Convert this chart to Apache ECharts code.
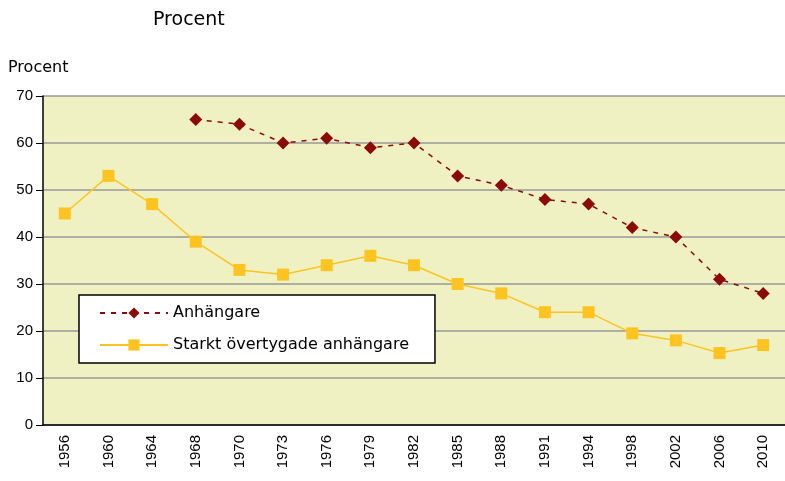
<!DOCTYPE html>
<html>
<head>
<meta charset="utf-8">
<script src="https://cdn.jsdelivr.net/npm/echarts@6/dist/echarts.min.js"></script>
<style>
  html, body { margin: 0; padding: 0; background: #fff; }
  #chart { width: 785px; height: 481px; }
</style>
</head>
<body>
<div id="chart"></div>
<script>
var years = ['1956','1960','1964','1968','1970','1973','1976','1979','1982','1985','1988','1991','1994','1998','2002','2006','2010'];
var anhangare = [null, null, null, 65, 64, 60, 61, 59, 60, 53, 51, 48, 47, 42, 40, 31, 28];
var starkt = [45, 53, 47, 39, 33, 32, 34, 36, 34, 30, 28, 24, 24, 19.5, 18, 15.3, 17];

var font = 'Liberation Sans, Arial, sans-serif';
var wide = 'DejaVu Sans, sans-serif';
var chart = echarts.init(document.getElementById('chart'));
chart.setOption({
    animation: false,
    title: {
        text: 'Procent',
        left: 148,
        top: 6,
        textStyle: { fontFamily: wide, fontSize: 19, fontWeight: 'normal', color: '#000' }
    },
    grid: {
        left: 43,
        right: 0,
        top: 96,
        bottom: 56,
        show: true,
        backgroundColor: '#eff1c3',
        borderWidth: 0
    },
    legend: {
        orient: 'vertical',
        left: 79,
        top: 295,
        backgroundColor: '#fff',
        borderColor: '#000',
        borderWidth: 1.5,
        padding: [10, 26, 10, 20],
        itemWidth: 68,
        itemHeight: 14,
        itemGap: 16,
        textStyle: { fontFamily: wide, fontSize: 16, color: '#000' },
        data: ['Anhängare', 'Starkt övertygade anhängare']
    },
    xAxis: {
        type: 'category',
        data: years,
        boundaryGap: true,
        axisLine: { lineStyle: { color: '#000', width: 1.5 } },
        axisTick: { show: false },
        axisLabel: { rotate: 90, fontFamily: font, fontSize: 15, color: '#000', margin: 10 }
    },
    yAxis: {
        type: 'value',
        min: 0,
        max: 70,
        interval: 10,
        name: 'Procent',
        nameLocation: 'end',
        nameGap: 20,
        nameTextStyle: { fontFamily: wide, fontSize: 16, color: '#000', align: 'left', padding: [0, 0, 0, -35] },
        axisLine: { show: true, lineStyle: { color: '#000', width: 1.5 } },
        axisTick: { show: true, length: 7, lineStyle: { color: '#000' } },
        axisLabel: { fontFamily: font, fontSize: 15, color: '#000', margin: 10 },
        splitLine: { lineStyle: { color: '#999', width: 1.5 } }
    },
    series: [
        {
            name: 'Anhängare',
            type: 'line',
            data: anhangare,
            symbol: 'diamond',
            symbolSize: 13,
            itemStyle: { color: '#8b0a0a' },
            lineStyle: { color: '#8b0a0a', width: 1.5, type: [5, 6] }
        },
        {
            name: 'Starkt övertygade anhängare',
            type: 'line',
            data: starkt,
            symbol: 'rect',
            symbolSize: 12,
            itemStyle: { color: '#fdc421' },
            lineStyle: { color: '#fdc421', width: 1.5 }
        }
    ]
});
</script>
</body>
</html>
